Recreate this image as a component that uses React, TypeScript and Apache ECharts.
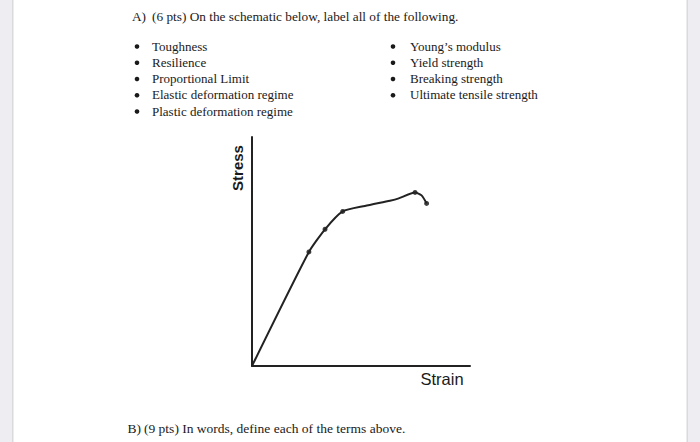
import React, { useEffect, useRef } from "react";
import * as echarts from "echarts";

const strain = [0, 26.1, 33.5, 41.6, 51.8, 63.3, 67.0, 74.8, 77.8, 80.1];
const stress = [0, 49.8, 59.7, 67.5, 69.9, 72.2, 73.1, 75.8, 74.5, 71.0];
const markerIdx = [1, 2, 3, 7, 9];

const titleLabel = "A)";
const titleText = "(6 pts) On the schematic below, label all of the following.";
const leftItems = [
  "Toughness",
  "Resilience",
  "Proportional Limit",
  "Elastic deformation regime",
  "Plastic deformation regime",
];
const rightItems = [
  "Young\u2019s modulus",
  "Yield strength",
  "Breaking strength",
  "Ultimate tensile strength",
];
const bottomLabel = "B)";
const bottomText = "(9 pts) In words, define each of the terms above.";
const xName = "Strain";
const yName = "Stress";

export default function App() {
  const ref = useRef<HTMLDivElement>(null);
  useEffect(() => {
    document.body.style.margin = "0";
    const chart = echarts.init(ref.current!, null, { renderer: "svg" });
    const serif = "'Liberation Serif', 'Times New Roman', serif";
    const sans = "'Liberation Sans', Arial, sans-serif";
    const ink = "#1a1a1a";
    const graphics: any[] = [];
    graphics.push({ type: "rect", shape: { x: 0, y: 0, width: 13, height: 442 }, style: { fill: "#eeeef2" } });
    graphics.push({ type: "rect", shape: { x: 12, y: 0, width: 1.5, height: 442 }, style: { fill: "#d9d9de" } });
    graphics.push({ type: "rect", shape: { x: 687, y: 0, width: 13, height: 442 }, style: { fill: "#eeeef2" } });
    graphics.push({ type: "rect", shape: { x: 686.5, y: 0, width: 1.5, height: 442 }, style: { fill: "#d9d9de" } });
    const txt = (x: number, y: number, text: string, size = 13) => ({
      type: "text",
      x,
      y,
      style: { text, fill: ink, font: `${size}px ${serif}`, verticalAlign: "middle", align: "left" },
    });
    graphics.push(txt(132, 16, titleLabel, 13.3));
    graphics.push(txt(152, 16, titleText, 13.3));
    const step = 16.25;
    leftItems.forEach((t, i) => {
      const y = 46 + i * step;
      graphics.push({ type: "circle", shape: { cx: 137, cy: y + 0.5, r: 2.3 }, style: { fill: ink } });
      graphics.push(txt(152, y, t));
    });
    rightItems.forEach((t, i) => {
      const y = 46 + i * step;
      graphics.push({ type: "circle", shape: { cx: 393, cy: y + 0.5, r: 2.3 }, style: { fill: ink } });
      graphics.push(txt(410, y, t));
    });
    graphics.push(txt(127.5, 428, bottomLabel, 13.5));
    graphics.push(txt(144, 428, bottomText, 13.5));
    graphics.push({
      type: "text",
      x: 237,
      y: 168,
      rotation: Math.PI / 2,
      style: { text: yName, fill: ink, font: `bold 15px ${sans}`, align: "center", verticalAlign: "middle" },
    });
    graphics.push({
      type: "text",
      x: 442,
      y: 379,
      style: { text: xName, fill: ink, font: `16.5px ${sans}`, align: "center", verticalAlign: "middle" },
    });

    const lineData = strain.map((x, i) => [x, stress[i]]);
    const markData = markerIdx.map((i) => [strain[i], stress[i]]);

    chart.setOption({
      animation: false,
      backgroundColor: "#ffffff",
      grid: { left: 252, top: 137, width: 218, height: 229 },
      xAxis: {
        type: "value",
        min: 0,
        max: 100,
        axisLine: { show: true, lineStyle: { color: "#222", width: 2 } },
        axisTick: { show: false },
        axisLabel: { show: false },
        splitLine: { show: false },
      },
      yAxis: {
        type: "value",
        min: 0,
        max: 100,
        axisLine: { show: true, lineStyle: { color: "#222", width: 2 } },
        axisTick: { show: false },
        axisLabel: { show: false },
        splitLine: { show: false },
      },
      series: [
        {
          type: "line",
          data: lineData,
          showSymbol: false,
          smooth: 0.2,
          lineStyle: { color: "#222", width: 2 },
        },
        {
          type: "scatter",
          data: markData,
          symbolSize: 5,
          itemStyle: { color: "#111" },
        },
      ],
      graphic: graphics,
    });
    return () => chart.dispose();
  }, []);
  return <div ref={ref} style={{ width: 700, height: 442 }} />;
}
